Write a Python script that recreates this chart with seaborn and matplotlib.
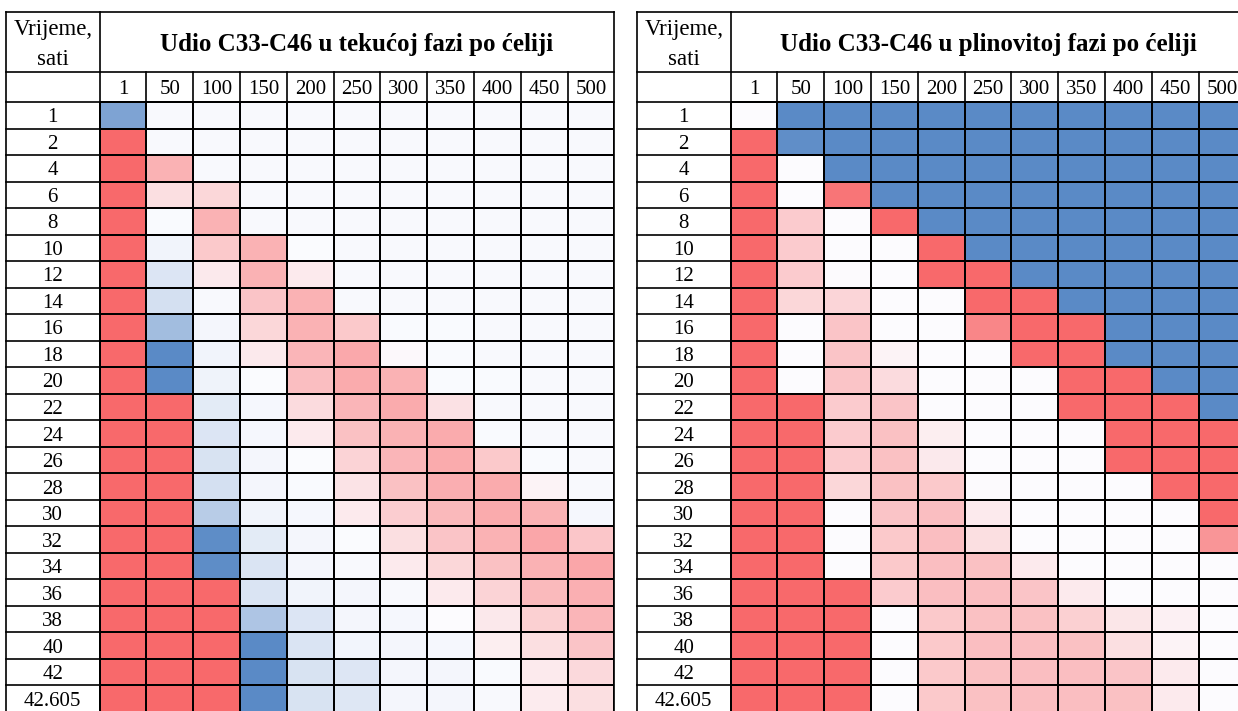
import numpy as np
import pandas as pd
import seaborn as sns
import matplotlib.pyplot as plt
from matplotlib.colors import LinearSegmentedColormap

# Row / column labels
time_labels = ["1", "2", "4", "6", "8", "10", "12", "14", "16", "18", "20", "22",
               "24", "26", "28", "30", "32", "34", "36", "38", "40", "42", "42.605"]
cell_labels = ["1", "50", "100", "150", "200", "250", "300", "350", "400", "450", "500"]

liquid_title = "Udio C33-C46 u tekućoj fazi po ćeliji"
gas_title = "Udio C33-C46 u plinovitoj fazi po ćeliji"
corner_label = "Vrijeme,\nsati"

# colour-scale score per cell (-1 = blue, 0 = white, 1 = red)
liquid_scores = [
    [-0.78, -0.03, -0.03, -0.03, -0.03, -0.03, -0.03, -0.03, -0.03, -0.03, -0.03],
    [1, -0.03, -0.03, -0.03, -0.03, -0.03, -0.03, -0.03, -0.03, -0.03, -0.03],
    [1, 0.5, -0.03, -0.03, -0.03, -0.03, -0.03, -0.03, -0.03, -0.03, -0.03],
    [1, 0.2, 0.25, -0.03, -0.03, -0.03, -0.03, -0.03, -0.03, -0.03, -0.03],
    [1, -0.02, 0.5, -0.03, -0.03, -0.03, -0.03, -0.03, -0.03, -0.03, -0.03],
    [1, -0.07, 0.35, 0.5, -0.01, -0.03, -0.03, -0.03, -0.03, -0.03, -0.03],
    [1, -0.2, 0.13, 0.5, 0.12, -0.03, -0.03, -0.03, -0.03, -0.03, -0.03],
    [1, -0.25, -0.03, 0.38, 0.5, -0.03, -0.03, -0.03, -0.03, -0.03, -0.03],
    [1, -0.55, -0.05, 0.25, 0.5, 0.35, -0.02, -0.02, -0.03, -0.03, -0.03],
    [1, -1, -0.07, 0.13, 0.48, 0.57, 0.03, -0.02, -0.03, -0.03, -0.03],
    [1, -1, -0.08, -0.01, 0.42, 0.55, 0.5, -0.02, -0.02, -0.03, -0.03],
    [1, 1, -0.15, -0.04, 0.22, 0.48, 0.55, 0.18, -0.03, -0.03, -0.03],
    [1, 1, -0.2, -0.04, 0.12, 0.4, 0.5, 0.55, -0.02, -0.03, -0.03],
    [1, 1, -0.22, -0.05, -0.01, 0.28, 0.48, 0.55, 0.35, -0.02, -0.03],
    [1, 1, -0.25, -0.05, -0.02, 0.17, 0.4, 0.53, 0.55, 0.06, -0.03],
    [1, 1, -0.42, -0.07, -0.04, 0.12, 0.32, 0.46, 0.55, 0.5, -0.04],
    [1, 1, -0.97, -0.15, -0.05, -0.01, 0.2, 0.38, 0.5, 0.58, 0.36],
    [1, 1, -0.97, -0.21, -0.05, -0.03, 0.12, 0.25, 0.4, 0.5, 0.58],
    [1, 1, 1, -0.21, -0.07, -0.05, -0.03, 0.12, 0.28, 0.45, 0.52],
    [1, 1, 1, -0.48, -0.2, -0.05, -0.04, 0.0, 0.14, 0.3, 0.48],
    [1, 1, 1, -1, -0.21, -0.06, -0.05, -0.04, 0.1, 0.2, 0.38],
    [1, 1, 1, -1, -0.22, -0.19, -0.05, -0.05, -0.02, 0.12, 0.24],
    [1, 1, 1, -1, -0.22, -0.18, -0.05, -0.05, -0.03, 0.11, 0.2],
]

gas_scores = [
    [0, -1, -1, -1, -1, -1, -1, -1, -1, -1, -1],
    [1, -0.96, -1, -1, -1, -1, -1, -1, -1, -1, -1],
    [1, 0, -1, -1, -1, -1, -1, -1, -1, -1, -1],
    [1, 0, 0.92, -1, -1, -1, -1, -1, -1, -1, -1],
    [1, 0.33, 0, 1, -1, -1, -1, -1, -1, -1, -1],
    [1, 0.33, 0, 0, 1, -1, -1, -1, -1, -1, -1],
    [1, 0.33, 0.01, 0, 1, 1, -1, -1, -1, -1, -1],
    [1, 0.25, 0.26, 0, 0, 1, 1, -1, -1, -1, -1],
    [1, 0, 0.38, 0, 0, 0.8, 1, 1, -1, -1, -1],
    [1, 0, 0.38, 0.06, 0, 0, 1, 1, -1, -1, -1],
    [1, 0, 0.38, 0.22, 0, 0, 0, 1, 1, -1, -1],
    [1, 1, 0.33, 0.38, 0, 0, 0, 1, 1, 1, -1],
    [1, 1, 0.33, 0.4, 0.1, 0, 0, 0, 1, 1, 1],
    [1, 1, 0.33, 0.4, 0.13, 0, 0, 0, 1, 1, 1],
    [1, 1, 0.25, 0.4, 0.35, 0.01, 0, 0, 0, 1, 1],
    [1, 1, 0, 0.38, 0.42, 0.12, 0, 0, 0, 0, 1],
    [1, 1, 0, 0.35, 0.42, 0.2, 0, 0, 0, 0, 0.7],
    [1, 1, 0, 0.35, 0.42, 0.4, 0.12, 0, 0, 0, 0],
    [1, 1, 1, 0.33, 0.42, 0.42, 0.38, 0.12, 0, 0, 0],
    [1, 1, 1, 0, 0.35, 0.4, 0.4, 0.3, 0.15, 0.08, 0],
    [1, 1, 1, 0, 0.35, 0.42, 0.42, 0.4, 0.2, 0.06, 0],
    [1, 1, 1, 0, 0.35, 0.4, 0.42, 0.42, 0.38, 0.12, 0],
    [1, 1, 1, 0, 0.35, 0.4, 0.42, 0.42, 0.4, 0.12, 0],
]

plt.rcParams['font.family'] = ['Liberation Serif', 'DejaVu Serif']

# Excel style 3-colour scale
cmap = LinearSegmentedColormap.from_list("excel", ["#5A8AC6", "#FCFCFF", "#F8696B"])

W, H = 1238, 711
fig = plt.figure(figsize=(W / 100, H / 100), dpi=100)

col_w = 46.8          # px per data column
row_h = (712 - 102) / 23
hdr = 30 / row_h      # column header row, in row units
ttl = 60 / row_h      # title row, in row units
top = -(hdr + ttl)
dy = 2.5 / row_h      # small downward nudge for text


def draw_table(left_px, title, scores):
    ax = fig.add_axes([left_px / W, (H - 712) / H, 13 * col_w / W, 700 / H])
    df = pd.DataFrame(scores, index=time_labels, columns=cell_labels)
    sns.heatmap(df, ax=ax, cmap=cmap, vmin=-1, vmax=1, cbar=False,
                linewidths=1.2, linecolor="black",
                xticklabels=False, yticklabels=False)
    ax.set_xlim(-2, 11)
    ax.set_ylim(23, top)
    ax.set_xlabel("")
    ax.set_ylabel("")

    kw = dict(color="black", lw=1.2, clip_on=False)
    # horizontal lines
    for y in [top, -hdr, 0]:
        ax.plot([-2, 11], [y, y], **kw)
    for i in range(1, 24):
        ax.plot([-2, 0], [i, i], **kw)
    # vertical lines
    for x in [-2, 0, 11]:
        ax.plot([x, x], [top, 23], **kw)
    for j in range(1, 11):
        ax.plot([j, j], [-hdr, 0], **kw)

    ax.text(5.5, top + ttl / 2 + dy, title, ha="center", va="center",
            fontsize=18, fontweight="bold")
    ax.text(-1, top + ttl / 2 + dy, corner_label, ha="center", va="center",
            fontsize=16.5, linespacing=1.6)
    for j, lab in enumerate(cell_labels):
        ax.text(j + 0.5, -hdr / 2 + dy, lab, ha="center", va="center", fontsize=15)
    for i, lab in enumerate(time_labels):
        ax.text(-1, i + 0.5 + dy, lab, ha="center", va="center", fontsize=15)
    return ax


draw_table(6, liquid_title, liquid_scores)
draw_table(637, gas_title, gas_scores)

fig.savefig("out.png", dpi=100, facecolor="white")
